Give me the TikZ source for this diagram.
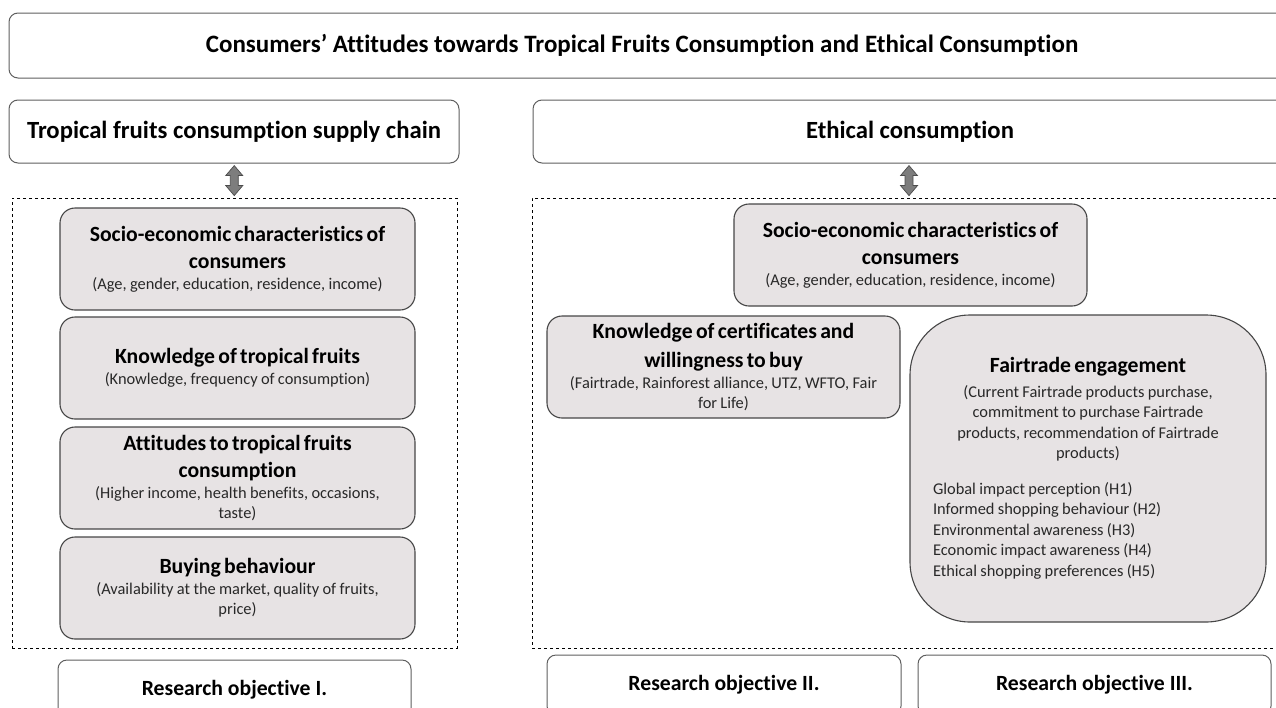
\documentclass[tikz,border=0pt]{standalone}
\usepackage{fontspec}
\setmainfont{Carlito}[Ligatures=CommonOff]
\usetikzlibrary{calc}

\definecolor{boxgray}{RGB}{231,227,228}
\definecolor{boxedge}{RGB}{70,70,70}
\definecolor{headedge}{RGB}{95,95,95}
\definecolor{arrowgray}{RGB}{125,125,125}
\definecolor{subgray}{RGB}{40,40,40}

\newcommand{\bigtitlefont}{\fontsize{25}{30}\selectfont\bfseries}
\newcommand{\panelfont}{\fontsize{24.7}{30}\selectfont\bfseries}
\newcommand{\factorfont}{\fontsize{21.7}{27.5}\selectfont\bfseries}
\newcommand{\detailfont}{\fontsize{16.4}{20.5}\selectfont\color{subgray}}

% block arrow pointing both ways, centred on #1
\newcommand{\twoway}[1]{%
  \filldraw[twoway, shift={(#1)}] (0,-15) -- (8.5,-5) -- (4,-5) -- (4,5) -- (8.5,5)
    -- (0,15) -- (-8.5,5) -- (-4,5) -- (-4,-5) -- (-8.5,-5) -- cycle;}

\begin{document}
\begin{tikzpicture}[x=1pt, y=-1pt,
  headbox/.style={draw=headedge, fill=white, rounded corners=9pt, line width=1pt,
    inner sep=0pt},
  factor/.style={draw=boxedge, fill=boxgray, rounded corners=15pt, line width=1.1pt,
    align=center, text width=340pt, minimum width=355pt, minimum height=102pt,
    inner sep=0pt},
  frame/.style={draw=black, dashed, line width=0.7pt, minimum width=445pt,
    minimum height=450pt, inner sep=0pt},
  goal/.style={headbox, minimum width=353pt, minimum height=60pt, font=\factorfont},
  twoway/.style={fill=arrowgray, draw=black!70, line width=0.7pt, line join=miter}]

\useasboundingbox (0,0) rectangle (1276,707);
\clip (0,0) rectangle (1276,707);

% headings
\node[headbox, minimum width=1300pt, minimum height=65pt,
  label={[font=\bigtitlefont, xshift=-17pt]center:Consumers’ Attitudes towards Tropical Fruits Consumption and Ethical Consumption}]
  (topic) at (659,45.5) {};
\node[headbox, minimum width=450pt, minimum height=63pt, font=\panelfont] (lhead) at (234,131.5)
  {Tropical fruits consumption supply chain};
\node[headbox, minimum width=754pt, minimum height=63pt, font=\panelfont] (ethic) at (910,131.5)
  {Ethical consumption};

% dashed frames
\node[frame] (lframe) at (234.5,423) {};
\node[frame, minimum width=768pt] (rframe) at (916,423) {};

\coordinate (la) at ($(lhead.south)!0.5!(lframe.north)$);
\coordinate (ra) at ($(ethic.south)!0.5!(rframe.north)+(-4,0)$);
\twoway{la}
\twoway{ra}

% supply chain factors
\node[factor] (lsocio) at (237.5,259) {%
  {\factorfont Socio-economic characteristics of\\consumers\par}
  {\detailfont (Age, gender, education, residence, income)\par}};
\node[factor] (lknow) at (237.5,368) {%
  {\factorfont Knowledge of tropical fruits\par}
  {\detailfont (Knowledge, frequency of consumption)\par}};
\node[factor] (lattit) at (237.5,478) {%
  {\factorfont Attitudes to tropical fruits\\consumption\par}
  {\detailfont (Higher income, health benefits, occasions,\\taste)\par}};
\node[factor] (lbuy) at (237.5,588) {%
  {\factorfont Buying behaviour\par}
  {\detailfont (Availability at the market, quality of fruits,\\price)\par}};

% ethical consumption factors
\node[factor, minimum width=353pt] (rsocio) at (910.5,255) {%
  {\factorfont Socio-economic characteristics of\\consumers\par}
  {\detailfont (Age, gender, education, residence, income)\par}};
\node[factor, minimum width=353pt] (cert) at (723.5,367) {%
  {\factorfont Knowledge of certificates and\\[2pt]willingness to buy\par}
  {\detailfont (Fairtrade, Rainforest alliance, UTZ, WFTO, Fair\\for Life)\par}};
\node[factor, minimum width=356pt, minimum height=307pt, text width=310pt,
  rounded corners=60pt] (fair) at (1088,468.5) {%
  {\factorfont Fairtrade engagement\par}
  \vspace{4pt}
  {\detailfont (Current Fairtrade products purchase,\\commitment to purchase Fairtrade\\
    products, recommendation of Fairtrade\\products)\par}
  \vspace{15pt}
  {\raggedright\detailfont Global impact perception (H1)\\Informed shopping behaviour (H2)\\
    Environmental awareness (H3)\\Economic impact awareness (H4)\\
    Ethical shopping preferences (H5)\par}
  \vspace{2pt}};

% research objectives
\node[goal] (goal1) at (234.5,690) {Research objective I.};
\node[goal, minimum width=354pt] (goal2) at (724,685) {Research objective II.};
\node[goal] (goal3) at (1094.5,685) {Research objective III.};
\end{tikzpicture}
\end{document}
